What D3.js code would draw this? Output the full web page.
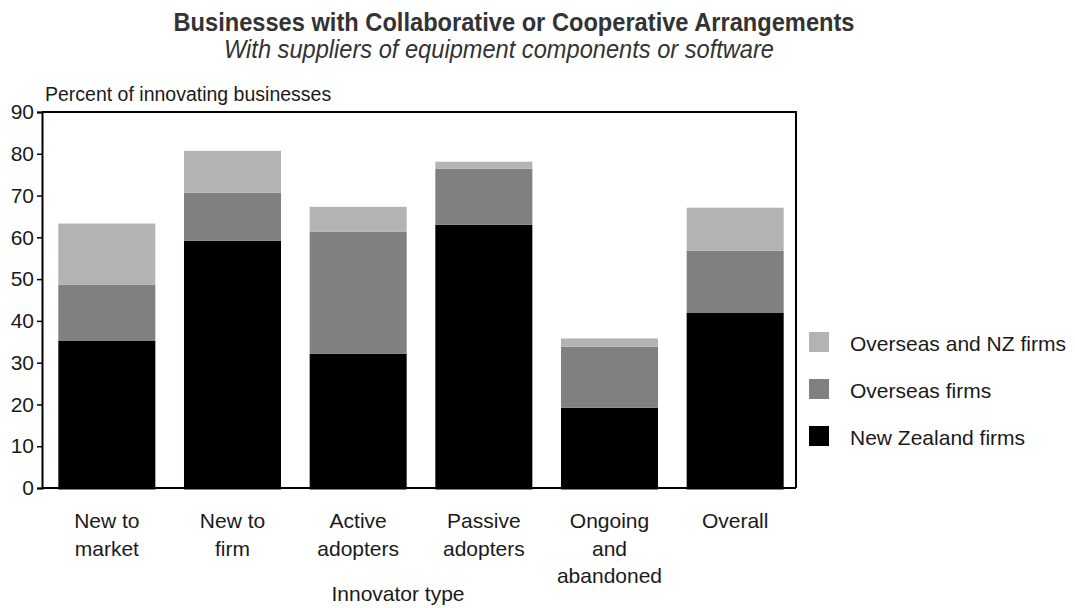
<!DOCTYPE html>
<html>
<head>
<meta charset="utf-8">
<script src="https://cdn.jsdelivr.net/npm/d3@7"></script>
<style>
    body { margin: 0; background: #fff; }
    text { font-family: "Liberation Sans", Arial, sans-serif; fill: #1a1a1a; }
    .title { fill: #333; }
</style>
</head>
<body>
<div id="chart"></div>
<script>
const categories = [
    ["New to", "market"],
    ["New to", "firm"],
    ["Active", "adopters"],
    ["Passive", "adopters"],
    ["Ongoing", "and", "abandoned"],
    ["Overall"]
];
const seriesNames = ["New Zealand firms", "Overseas firms", "Overseas and NZ firms"];
const nzFirms = [35.3, 59.2, 32.1, 63.0, 19.2, 42.0];
const overseasFirms = [13.4, 11.5, 29.2, 13.4, 14.6, 14.8];
const bothFirms = [14.6, 10.0, 6.0, 1.7, 2.0, 10.3];
const yTicks = [0, 10, 20, 30, 40, 50, 60, 70, 80, 90];
const colors = ["#000000", "#808080", "#b3b3b3"];

const width = 1075, height = 608;
const margin = { top: 112, right: 279, bottom: 120, left: 42 };

const svg = d3.select("#chart").append("svg")
    .attr("width", width)
    .attr("height", height);

// build rows for the stack
const rows = categories.map((c, i) => ({
    key: c.join(" "),
    [seriesNames[0]]: nzFirms[i],
    [seriesNames[1]]: overseasFirms[i],
    [seriesNames[2]]: bothFirms[i]
}));
const stacked = d3.stack().keys(seriesNames)(rows);

const xScale = d3.scaleBand()
    .domain(rows.map(d => d.key))
    .range([margin.left + 2, width - margin.right + 2])
    .paddingInner(0.228)
    .paddingOuter(0.114);

const yScale = d3.scaleLinear()
    .domain([0, 90])
    .range([height - margin.bottom, margin.top]);

const color = d3.scaleOrdinal().domain(seriesNames).range(colors);

// bars
svg.append("g").selectAll("g")
    .data(stacked)
    .join("g")
    .attr("fill", d => color(d.key))
    .selectAll("rect")
    .data(d => d)
    .join("rect")
    .attr("x", d => xScale(d.data.key))
    .attr("y", d => yScale(d[1]))
    .attr("width", xScale.bandwidth())
    .attr("height", d => yScale(d[0]) - yScale(d[1]) + (d[0] === 0 ? 1.5 : 0));

// frame top and right
svg.append("path")
    .attr("d", `M${margin.left},${margin.top}H${width - margin.right}V${height - margin.bottom}`)
    .attr("fill", "none")
    .attr("stroke", "#000")
    .attr("stroke-width", 2);

// y axis
const yAxis = svg.append("g")
    .attr("transform", `translate(${margin.left},0)`)
    .call(d3.axisLeft(yScale).tickValues(yTicks).tickSize(5).tickPadding(3));
yAxis.select(".domain").attr("stroke-width", 2);
yAxis.selectAll(".tick line").attr("stroke-width", 1.5);
yAxis.selectAll(".tick text")
    .attr("font-size", 21)
    .attr("font-family", "Liberation Sans, Arial, sans-serif")
    .attr("fill", "#1a1a1a");

// x axis line
svg.append("line")
    .attr("x1", margin.left).attr("x2", width - margin.right)
    .attr("y1", yScale(0)).attr("y2", yScale(0))
    .attr("stroke", "#000").attr("stroke-width", 2);

// x labels
const xl = svg.append("g").selectAll("text")
    .data(rows.map((r, i) => ({ key: r.key, lines: categories[i] })))
    .join("text")
    .attr("text-anchor", "middle")
    .attr("font-size", 21)
    .attr("x", d => xScale(d.key) + xScale.bandwidth() / 2)
    .attr("y", 528);
xl.selectAll("tspan")
    .data(d => d.lines.map(l => ({ l, x: xScale(d.key) + xScale.bandwidth() / 2 })))
    .join("tspan")
    .attr("x", d => d.x)
    .attr("dy", (d, i) => i === 0 ? 0 : 27.5)
    .text(d => d.l);

svg.append("text")
    .attr("x", 398).attr("y", 601)
    .attr("text-anchor", "middle")
    .attr("font-size", 21)
    .text("Innovator type");

svg.append("text")
    .attr("x", 45).attr("y", 101)
    .attr("font-size", 19.5)
    .text("Percent of innovating businesses");

// titles, condensed to the reference width
svg.append("text")
    .attr("class", "title")
    .attr("x", 514).attr("y", 31)
    .attr("text-anchor", "middle")
    .attr("font-size", 26)
    .attr("font-weight", "bold")
    .attr("textLength", 681)
    .attr("lengthAdjust", "spacingAndGlyphs")
    .text("Businesses with Collaborative or Cooperative Arrangements");

svg.append("text")
    .attr("class", "title")
    .attr("x", 499).attr("y", 58)
    .attr("text-anchor", "middle")
    .attr("font-size", 25)
    .attr("font-style", "italic")
    .attr("textLength", 550)
    .attr("lengthAdjust", "spacingAndGlyphs")
    .text("With suppliers of equipment components or software");

// legend (top entry is the top of the stack)
const legend = svg.append("g").selectAll("g")
    .data(seriesNames.slice().reverse())
    .join("g")
    .attr("transform", (d, i) => `translate(809,${332 + i * 47})`);
legend.append("rect")
    .attr("width", 20).attr("height", 20)
    .attr("fill", d => color(d));
legend.append("text")
    .attr("x", 41).attr("y", 19)
    .attr("font-size", 21)
    .text(d => d);
</script>
</body>
</html>
